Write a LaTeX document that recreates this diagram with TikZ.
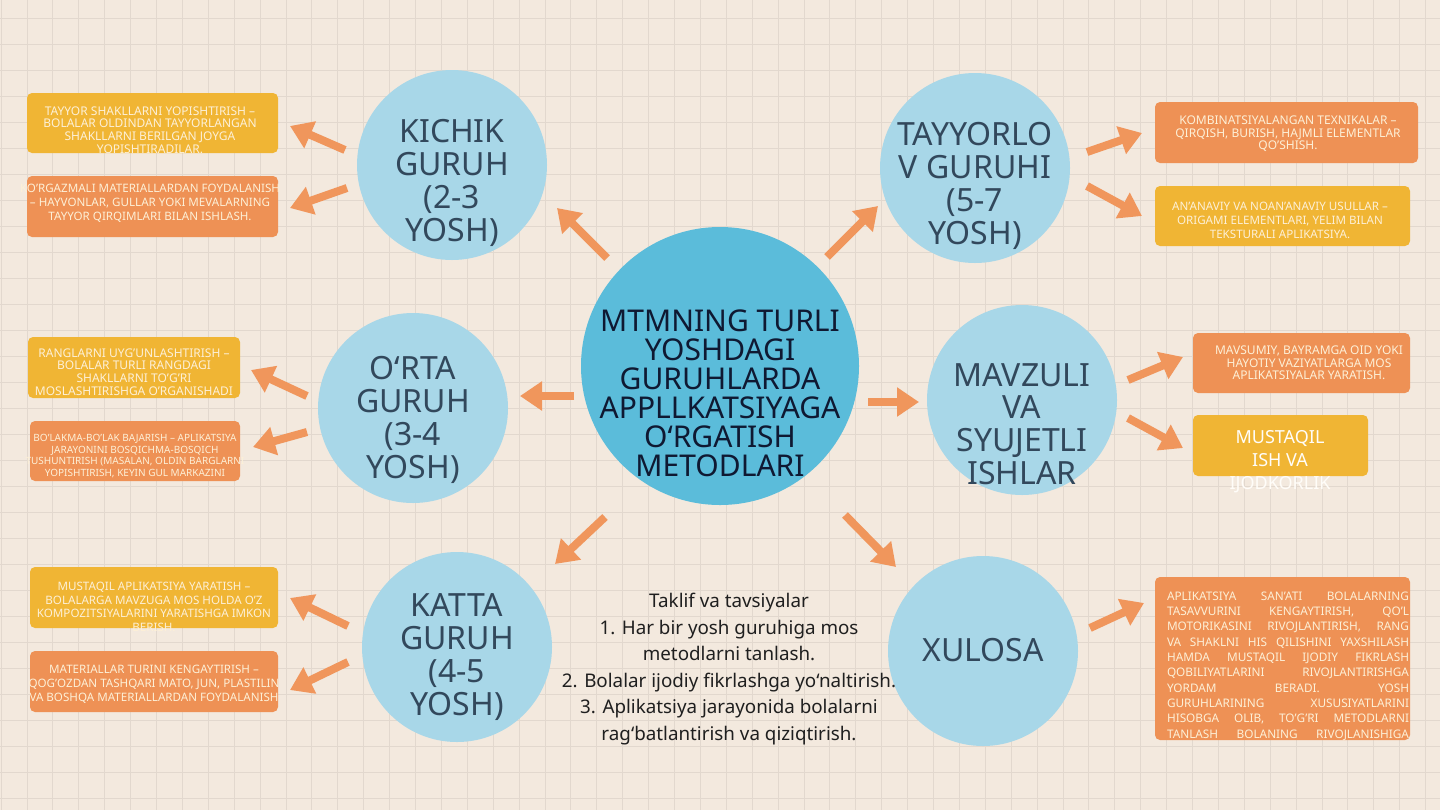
\documentclass[tikz,border=0pt]{standalone}
\usepackage{fontspec}
\setmainfont{Noto Sans}
\usetikzlibrary{arrows.meta}
\definecolor{bgc}{RGB}{243,233,222}
\definecolor{gridc}{RGB}{226,216,206}
\definecolor{centc}{RGB}{91,188,218}
\definecolor{satc}{RGB}{168,215,232}
\definecolor{yelc}{RGB}{240,181,52}
\definecolor{orac}{RGB}{238,145,85}
\definecolor{arrc}{RGB}{240,150,92}
\definecolor{btxt}{RGB}{253,240,215}
\definecolor{ctxt}{RGB}{50,72,92}
\definecolor{mtxt}{RGB}{15,25,50}
\tikzset{
  gridline/.style={draw=gridc, line width=0.5pt},
  bigcirc/.style={circle, fill=centc, minimum size=139pt, inner sep=0pt},
  satcirc/.style={circle, fill=satc, minimum size=95pt, inner sep=0pt},
  boxst/.style={rectangle, rounded corners=2.5pt, inner sep=0pt},
  btext/.style={text=btxt, align=center, inner sep=0pt, font=\fontsize{6}{6.3}\selectfont},
  ctext/.style={text=ctxt, align=center, inner sep=0pt, font=\fontsize{16}{16.4}\selectfont},
  blockarrow/.style={draw=arrc, line width=4pt, -{Triangle[width=14pt,length=11pt]}},
}
\begin{document}
\begin{tikzpicture}[x=0.5pt,y=-0.5pt]
\useasboundingbox (0,0) rectangle (1440,810);
\fill[bgc] (0,0) rectangle (1440,810);
\foreach \i in {0,...,55} \draw[gridline] ({1.1+25.9*\i},0) -- ({1.1+25.9*\i},810);
\foreach \j in {0,...,31} \draw[gridline] (0,{18+26*\j}) -- (1440,{18+26*\j});

% circles
\node[bigcirc] (center) at (720,366) {};
\node[satcirc] (kichik) at (452,165) {};
\node[satcirc] (tayyor) at (975,168) {};
\node[satcirc] (orta) at (413,408) {};
\node[satcirc] (mavzu) at (1022,400) {};
\node[satcirc] (katta) at (457,647) {};
\node[satcirc] (xulosa) at (983,651) {};

\node[text=mtxt, align=center, inner sep=0pt, font=\fontsize{15}{14.5}\selectfont] (centert) at (720,393)
 {MTMNING TURLI\\YOSHDAGI\\GURUHLARDA\\APPLLKATSIYAGA\\O‘RGATISH\\METODLARI};
\node[ctext] (kichikt) at (452,183) {KICHIK\\GURUH\\(2-3\\YOSH)};
\node[ctext] (tayyort) at (975,186) {TAYYORLO\\V GURUHI\\(5-7\\YOSH)};
\node[ctext] (ortat) at (413,420) {O‘RTA\\GURUH\\(3-4\\YOSH)};
\node[ctext] (mavzut) at (1022,424) {MAVZULI\\VA\\SYUJETLI\\ISHLAR};
\node[ctext] (kattat) at (457,657) {KATTA\\GURUH\\(4-5\\YOSH)};
\node[ctext] (xulosat) at (983,650) {XULOSA};

% boxes
\node[boxst, fill=yelc, minimum width=125.5pt, minimum height=30pt] (b1) at (152.5,123) {};
\node[boxst, fill=orac, minimum width=125.5pt, minimum height=30.5pt] (b2) at (152.5,206.5) {};
\node[boxst, fill=yelc, minimum width=106pt, minimum height=30.5pt] (b3) at (134,367.5) {};
\node[boxst, fill=orac, minimum width=105pt, minimum height=30pt] (b4) at (135,451) {};
\node[boxst, fill=yelc, minimum width=124pt, minimum height=30.5pt] (b5) at (154,597.5) {};
\node[boxst, fill=orac, minimum width=124pt, minimum height=30.5pt] (b6) at (154,681.5) {};
\node[boxst, fill=orac, minimum width=131.5pt, minimum height=30.5pt] (b7) at (1286.5,132.5) {};
\node[boxst, fill=yelc, minimum width=127.5pt, minimum height=30pt] (b8) at (1282.5,216) {};
\node[boxst, fill=orac, minimum width=108.5pt, minimum height=30pt] (b9) at (1301.5,363) {};
\node[boxst, fill=yelc, minimum width=87.5pt, minimum height=30.5pt] (b10) at (1280.5,445.5) {};
\node[boxst, fill=orac, minimum width=127.5pt, minimum height=81.5pt] (b11) at (1282.5,658.5) {};

\node[btext] (t1) at (150,130) {TAYYOR SHAKLLARNI YOPISHTIRISH –\\BOLALAR OLDINDAN TAYYORLANGAN\\SHAKLLARNI BERILGAN JOYGA\\YOPISHTIRADILAR.};
\node[btext, font=\fontsize{5.8}{7}\selectfont] (t2) at (150,203) {KO'RGAZMALI MATERIALLARDAN FOYDALANISH\\– HAYVONLAR, GULLAR YOKI MEVALARNING\\TAYYOR QIRQIMLARI BILAN ISHLASH.};
\node[btext] (t3) at (134,372) {RANGLARNI UYG'UNLASHTIRISH –\\BOLALAR TURLI RANGDAGI\\SHAKLLARNI TO'G'RI\\MOSLASHTIRISHGA O'RGANISHADI};
\node[btext, font=\fontsize{5}{5.75}\selectfont] (t4) at (135,456) {BO'LAKMA-BO'LAK BAJARISH – APLIKATSIYA\\JARAYONINI BOSQICHMA-BOSQICH\\TUSHUNTIRISH (MASALAN, OLDIN BARGLARNI\\YOPISHTIRISH, KEYIN GUL MARKAZINI};
\node[btext, font=\fontsize{5.8}{6.8}\selectfont] (t5) at (154,607) {MUSTAQIL APLIKATSIYA YARATISH –\\BOLALARGA MAVZUGA MOS HOLDA O'Z\\KOMPOZITSIYALARINI YARATISHGA IMKON\\BERISH.};
\node[btext, font=\fontsize{5.8}{7}\selectfont] (t6) at (154,684) {MATERIALLAR TURINI KENGAYTIRISH –\\QOG'OZDAN TASHQARI MATO, JUN, PLASTILIN\\VA BOSHQA MATERIALLARDAN FOYDALANISH};
\node[btext] (t7) at (1288,134) {KOMBINATSIYALANGAN TEXNIKALAR –\\QIRQISH, BURISH, HAJMLI ELEMENTLAR\\QO'SHISH.};
\node[btext, font=\fontsize{5.8}{7}\selectfont] (t8) at (1280,220) {AN'ANAVIY VA NOAN'ANAVIY USULLAR –\\ORIGAMI ELEMENTLARI, YELIM BILAN\\TEKSTURALI APLIKATSIYA.};
\node[btext] (t9) at (1309,363) {MAVSUMIY, BAYRAMGA OID YOKI\\HAYOTIY VAZIYATLARGA MOS\\APLIKATSIYALAR YARATISH.};
\node[btext, text=white!85!btxt, font=\fontsize{9}{11.5}\selectfont] (t10) at (1280,462) {MUSTAQIL\\ISH VA\\IJODKORLIK};
\node[btext, font=\fontsize{5.9}{7.65}\selectfont] (t11) at (1288,666) {%
\makebox[121pt][s]{APLIKATSIYA SAN'ATI BOLALARNING}\\
\makebox[121pt][s]{TASAVVURINI KENGAYTIRISH, QO'L}\\
\makebox[121pt][s]{MOTORIKASINI RIVOJLANTIRISH, RANG}\\
\makebox[121pt][s]{VA SHAKLNI HIS QILISHINI YAXSHILASH}\\
\makebox[121pt][s]{HAMDA MUSTAQIL IJODIY FIKRLASH}\\
\makebox[121pt][s]{QOBILIYATLARINI RIVOJLANTIRISHGA}\\
\makebox[121pt][s]{YORDAM BERADI. YOSH}\\
\makebox[121pt][s]{GURUHLARINING XUSUSIYATLARINI}\\
\makebox[121pt][s]{HISOBGA OLIB, TO'G'RI METODLARNI}\\
\makebox[121pt][s]{TANLASH BOLANING RIVOJLANISHIGA}};

% bottom text
\node[text=black!88, align=center, inner sep=0pt, font=\fontsize{9.4}{13.25}\selectfont] (taklif) at (729,669)
 {Taklif va tavsiyalar\\1. Har bir yosh guruhiga mos\\metodlarni tanlash.\\2. Bolalar ijodiy fikrlashga yo‘naltirish.\\3. Aplikatsiya jarayonida bolalarni\\rag‘batlantirish va qiziqtirish.};

% arrow coordinates
\coordinate (c1s) at (607,258); \coordinate (c1e) at (557,208);
\coordinate (c2s) at (827,257); \coordinate (c2e) at (878,206);
\coordinate (c3s) at (574,396); \coordinate (c3e) at (520,396);
\coordinate (c4s) at (868,402); \coordinate (c4e) at (919,402);
\coordinate (c5s) at (605,517); \coordinate (c5e) at (555,564);
\coordinate (c6s) at (845,515); \coordinate (c6e) at (896,567);
\coordinate (k1s) at (345,150); \coordinate (k1e) at (290,126);
\coordinate (k2s) at (347,188); \coordinate (k2e) at (290,208);
\coordinate (y1s) at (1087,152); \coordinate (y1e) at (1142,133);
\coordinate (y2s) at (1087,186); \coordinate (y2e) at (1142,216);
\coordinate (o1s) at (307,396); \coordinate (o1e) at (251,370);
\coordinate (o2s) at (307,432); \coordinate (o2e) at (253,447);
\coordinate (m1s) at (1128,380); \coordinate (m1e) at (1183,357);
\coordinate (m2s) at (1128,418); \coordinate (m2e) at (1183,448);
\coordinate (a1s) at (348,626); \coordinate (a1e) at (290,598);
\coordinate (a2s) at (348,662); \coordinate (a2e) at (290,690);
\coordinate (x1s) at (1090,628); \coordinate (x1e) at (1144,603);

\foreach \p in {c1,c2,c3,c4,c5,c6,k1,k2,y1,y2,o1,o2,m1,m2,a1,a2,x1}
  \draw[blockarrow] (\p s) -- (\p e);
\end{tikzpicture}
\end{document}
